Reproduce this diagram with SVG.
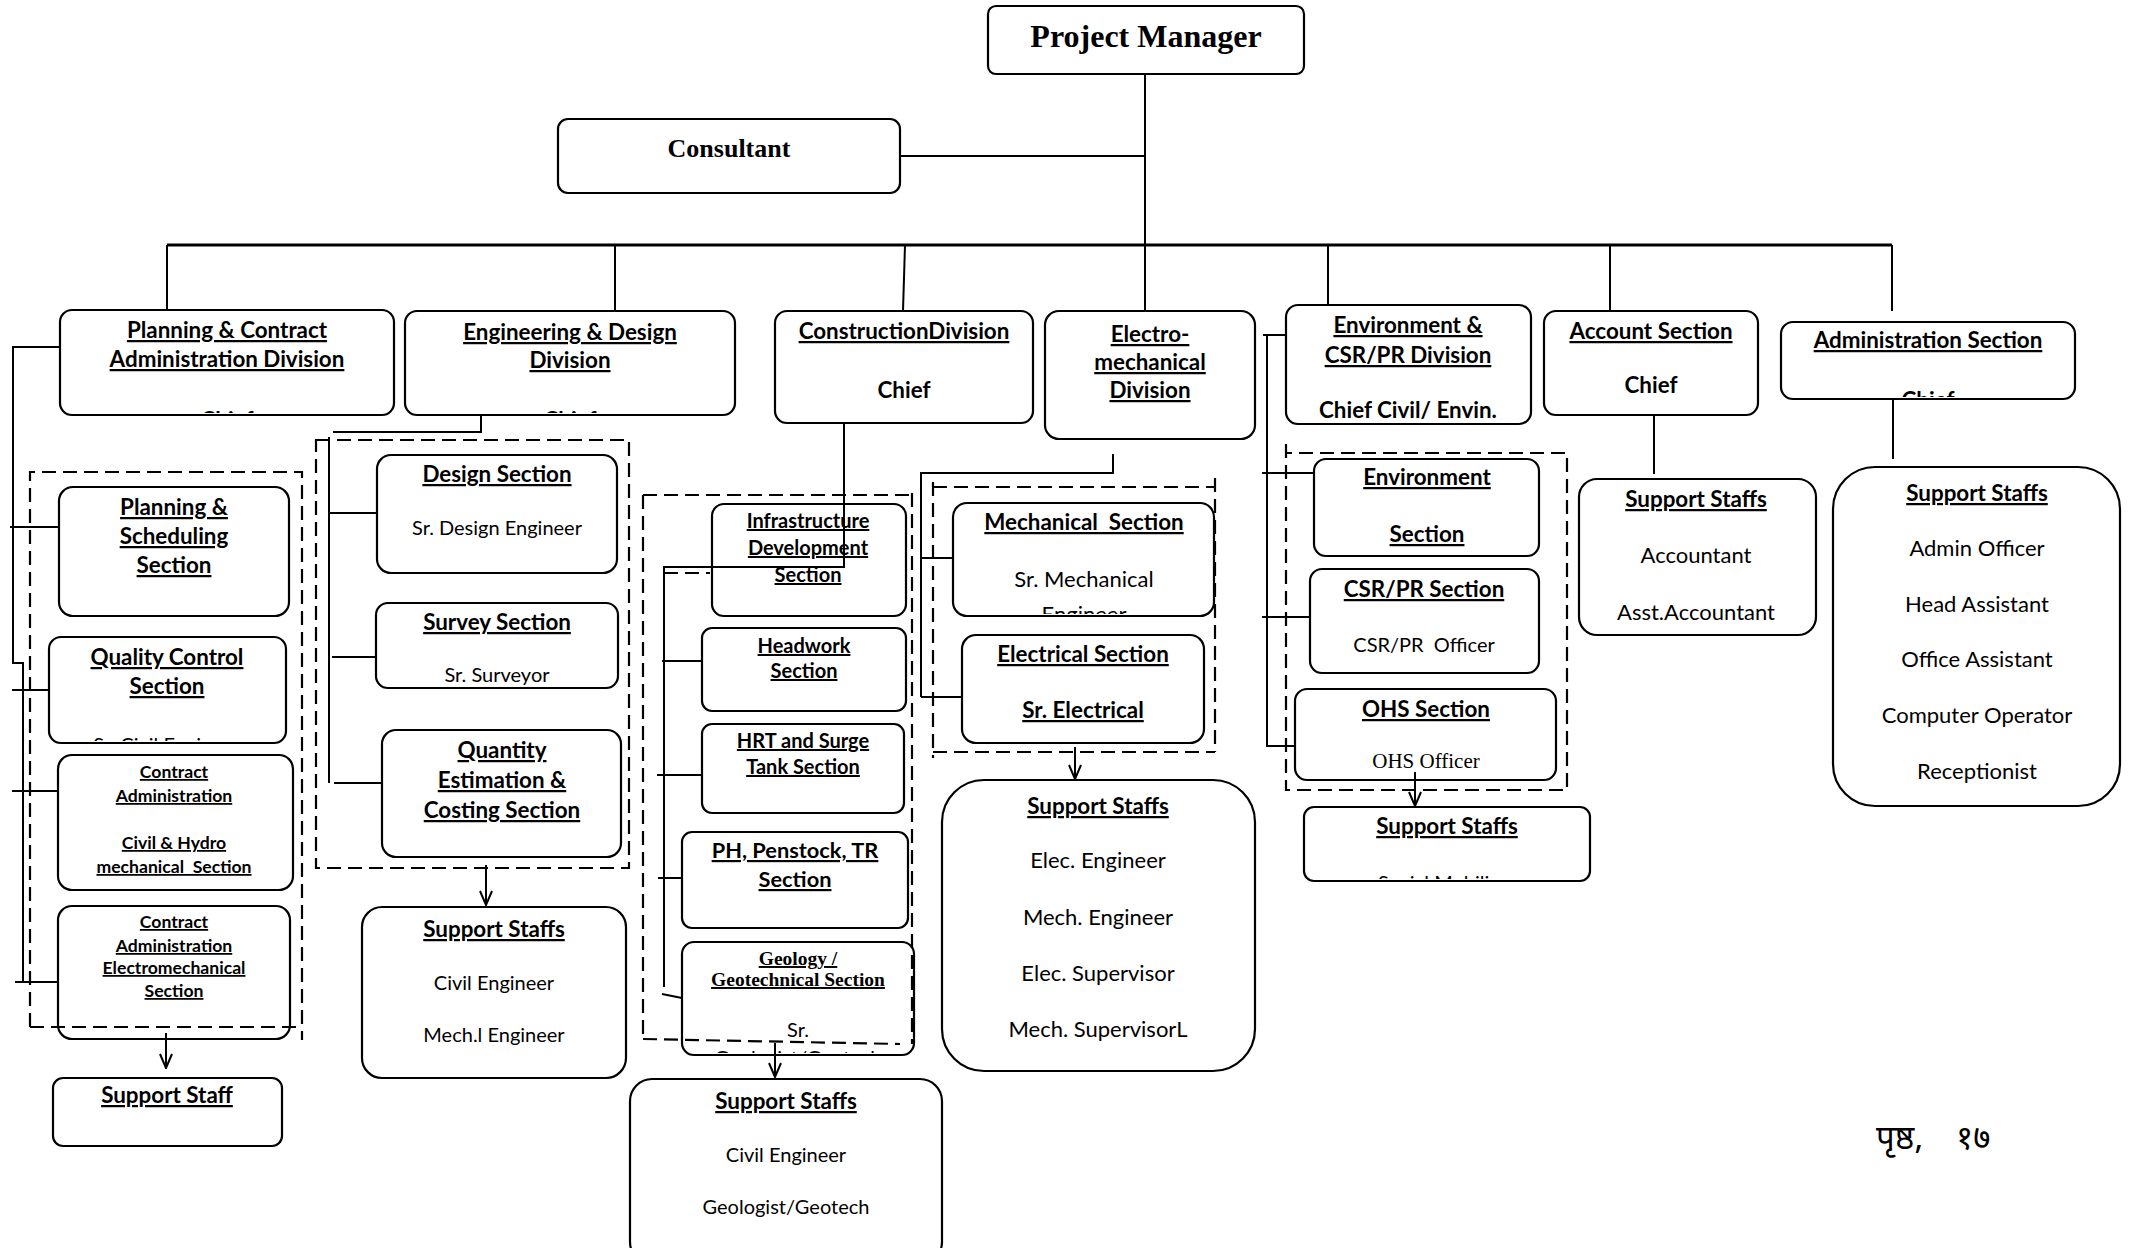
<svg xmlns="http://www.w3.org/2000/svg" width="2134" height="1248" viewBox="0 0 2134 1248">
<style>
.bg{fill:#fff}
.box{fill:none;stroke:#000;stroke-width:2.2}
.ln{fill:none;stroke:#000;stroke-width:2}
.bus{fill:none;stroke:#000;stroke-width:3}
.dash{fill:none;stroke:#000;stroke-width:2.2;stroke-dasharray:14 7}
.arr{fill:none;stroke:#000;stroke-width:2;marker-end:url(#v)}
text{font-family:Lato,"Liberation Sans",sans-serif;text-anchor:middle;fill:#000}
.b{font-weight:700}
.u{text-decoration:underline}
.s{font-family:"Liberation Serif","Times New Roman",serif}
.pre{white-space:pre}
.t{font-size:22.4px}
.sm{font-size:17.6px}
.md{font-size:20px}
.r20{font-size:20px}.r22{font-size:22px}
</style>
<defs>
<marker id="v" viewBox="0 0 16 14" refX="15" refY="7" markerWidth="16" markerHeight="14" markerUnits="userSpaceOnUse" orient="auto">
<path d="M1,1 L15,7 L1,13" fill="none" stroke="#000" stroke-width="2"/>
</marker>
<clipPath id="cD1"><rect x="60" y="310" width="334" height="103"/></clipPath>
<clipPath id="cD2"><rect x="405" y="311" width="330" height="102"/></clipPath>
<clipPath id="cD7"><rect x="1781" y="322" width="294" height="75"/></clipPath>
<clipPath id="cP2"><rect x="49" y="637" width="237" height="104"/></clipPath>
<clipPath id="cM1"><rect x="953" y="503" width="261" height="111"/></clipPath>
<clipPath id="cC5"><rect x="682" y="942" width="232" height="111"/></clipPath>
<clipPath id="cSV"><rect x="1304" y="807" width="286" height="72"/></clipPath>
</defs>
<rect class="bg" x="0" y="0" width="2134" height="1248"/>

<g id="connectors">
<path class="ln" d="M1145,74 V245"/>
<path class="ln" d="M900,156 H1145"/>
<path class="bus" d="M167,245 H1892"/>
<path class="ln" d="M167,245 V310 M615,245 V311 M905,245 L903,311 M1145,245 V311 M1328,245 V305 M1610,245 V311 M1892,245 V311"/>
<path class="ln" d="M60,347 H13 V663 H23 V982 M10,527 H59 M12,690 H49 M12,791 H58 M15,982 H58"/>
<path class="ln" d="M481,415 V432 H333 M329,437 V783 M329,513 H377 M332,657 H376 M334,783 H382"/>
<path class="ln" d="M844,423 V567 H664 V987 M662,661 H702 M657,775 H702 M658,878 H682 M662,994 L682,998"/>
<path class="ln" d="M1113,454 V474 M1113,473 H921 V697 M921,558 H953 M921,697 H962"/>
<path class="ln" d="M1286,335 H1263 M1267,335 V746 H1295 M1262,473 H1314 M1262,617 H1310"/>
<path class="ln" d="M1654,415 V474 M1893,400 V459"/>
<path class="arr" d="M166,1033 V1068"/>
<path class="arr" d="M486,865 V905"/>
<path class="arr" d="M775,1043 V1077"/>
<path class="arr" d="M1075,747 V779"/>
<path class="arr" d="M1415,772 V806"/>
<path class="dash" d="M30,1027 V472 H302 V1040 M30,1027 H302"/>
<path class="dash" d="M316,440 H629 V868 H316 Z"/>
<path class="dash" d="M643,495 H910 M643,495 V1040 M643,1039 L900,1044 M912,493 V1044 M664,573 H710"/>
<path class="dash" d="M933,487 H1215 M1215,478 V752 M933,752 H1215 M933,482 V758"/>
<path class="dash" d="M1286,444 V790 H1567 V453 H1286"/>
</g>

<g id="project-manager">
<rect class="box" x="988" y="6" width="316" height="68" rx="8"/>
<text class="s b" x="1146" y="47" style="font-size:32px">Project Manager</text>
</g>
<g id="consultant">
<rect class="box" x="558" y="119" width="342" height="74" rx="10"/>
<text class="s b" x="729" y="157" style="font-size:26px">Consultant</text>
</g>

<g id="planning-division">
<rect class="box" x="60" y="310" width="334" height="105" rx="12"/>
<text class="b u t" x="227" y="338">Planning &amp; Contract</text>
<text class="b u t" x="227" y="367">Administration Division</text>
<text class="b t" x="227" y="428" clip-path="url(#cD1)">Chief</text>
</g>
<g id="engineering-division">
<rect class="box" x="405" y="311" width="330" height="104" rx="12"/>
<text class="b u t" x="570" y="340">Engineering &amp; Design</text>
<text class="b u t" x="570" y="368">Division</text>
<text class="b t" x="570" y="428" clip-path="url(#cD2)">Chief</text>
</g>
<g id="construction-division">
<rect class="box" x="775" y="311" width="258" height="112" rx="12"/>
<text class="b u t" x="904" y="339">ConstructionDivision</text>
<text class="b t" x="904" y="398">Chief</text>
</g>
<g id="electromechanical-division">
<rect class="box" x="1045" y="311" width="210" height="128" rx="14"/>
<text class="b u t" x="1150" y="342">Electro-</text>
<text class="b u t" x="1150" y="370">mechanical</text>
<text class="b u t" x="1150" y="398">Division</text>
</g>
<g id="environment-division">
<rect class="box" x="1286" y="305" width="245" height="119" rx="12"/>
<text class="b u t" x="1408" y="333">Environment &amp;</text>
<text class="b u t" x="1408" y="363">CSR/PR Division</text>
<text class="b t" x="1408" y="418">Chief Civil/ Envin.</text>
</g>
<g id="account-section">
<rect class="box" x="1544" y="311" width="214" height="104" rx="12"/>
<text class="b u t" x="1651" y="339">Account Section</text>
<text class="b t" x="1651" y="393">Chief</text>
</g>
<g id="administration-section">
<rect class="box" x="1781" y="322" width="294" height="77" rx="12"/>
<text class="b u t" x="1928" y="348">Administration Section</text>
<text class="b t" x="1928" y="408" clip-path="url(#cD7)">Chief</text>
</g>

<g id="planning-scheduling">
<rect class="box" x="59" y="487" width="230" height="129" rx="14"/>
<text class="b u t" x="174" y="515">Planning &amp;</text>
<text class="b u t" x="174" y="544">Scheduling</text>
<text class="b u t" x="174" y="573">Section</text>
</g>
<g id="quality-control">
<rect class="box" x="49" y="637" width="237" height="106" rx="12"/>
<text class="b u t" x="167" y="665">Quality Control</text>
<text class="b u t" x="167" y="694">Section</text>
<text class="r20" x="167" y="752" clip-path="url(#cP2)">Sr. Civil Engineer</text>
</g>
<g id="contract-civil">
<rect class="box" x="58" y="755" width="235" height="135" rx="14"/>
<text class="b u sm" x="174" y="778">Contract</text>
<text class="b u sm" x="174" y="802">Administration</text>
<text class="b u sm" x="174" y="849">Civil &amp; Hydro</text>
<text class="b u sm pre" x="174" y="873">mechanical  Section</text>
</g>
<g id="contract-electromechanical">
<rect class="box" x="58" y="906" width="232" height="133" rx="14"/>
<text class="b u sm" x="174" y="928">Contract</text>
<text class="b u sm" x="174" y="952">Administration</text>
<text class="b u sm" x="174" y="974">Electromechanical</text>
<text class="b u sm" x="174" y="997">Section</text>
</g>
<g id="planning-support">
<rect class="box" x="53" y="1078" width="229" height="68" rx="10"/>
<text class="b u t" x="167" y="1103">Support Staff</text>
</g>

<g id="design-section">
<rect class="box" x="377" y="455" width="240" height="118" rx="14"/>
<text class="b u t" x="497" y="482">Design Section</text>
<text class="r20" x="497" y="535">Sr. Design Engineer</text>
</g>
<g id="survey-section">
<rect class="box" x="376" y="603" width="242" height="85" rx="12"/>
<text class="b u t" x="497" y="630">Survey Section</text>
<text class="r20" x="497" y="682">Sr. Surveyor</text>
</g>
<g id="quantity-section">
<rect class="box" x="382" y="730" width="239" height="127" rx="14"/>
<text class="b u t" x="502" y="758">Quantity</text>
<text class="b u t" x="502" y="788">Estimation &amp;</text>
<text class="b u t" x="502" y="818">Costing Section</text>
</g>
<g id="engineering-support">
<rect class="box" x="362" y="907" width="264" height="171" rx="20"/>
<text class="b u t" x="494" y="937">Support Staffs</text>
<text class="r20" x="494" y="990">Civil Engineer</text>
<text class="r20" x="494" y="1042">Mech.l Engineer</text>
</g>

<g id="infrastructure-section">
<rect class="box" x="712" y="504" width="194" height="112" rx="12"/>
<text class="b u md" x="808" y="528">Infrastructure</text>
<text class="b u md" x="808" y="555">Development</text>
<text class="b u md" x="808" y="582">Section</text>
</g>
<g id="headwork-section">
<rect class="box" x="702" y="628" width="204" height="83" rx="10"/>
<text class="b u md" x="804" y="653">Headwork</text>
<text class="b u md" x="804" y="678">Section</text>
</g>
<g id="hrt-section">
<rect class="box" x="702" y="724" width="202" height="89" rx="10"/>
<text class="b u md" x="803" y="748">HRT and Surge</text>
<text class="b u md" x="803" y="774">Tank Section</text>
</g>
<g id="ph-section">
<rect class="box" x="682" y="832" width="226" height="96" rx="10"/>
<text class="b u" x="795" y="858" style="font-size:21.8px">PH, Penstock, TR</text>
<text class="b u" x="795" y="887" style="font-size:21.8px">Section</text>
</g>
<g id="geology-section">
<rect class="box" x="682" y="942" width="232" height="113" rx="12"/>
<text class="s b u" x="798" y="965" style="font-size:19.5px">Geology /</text>
<text class="s b u" x="798" y="986" style="font-size:19.5px">Geotechnical Section</text>
<text class="r20" x="798" y="1037">Sr.</text>
<text class="r20" x="798" y="1065" clip-path="url(#cC5)">Geologist/Geotech</text>
</g>
<g id="construction-support">
<rect class="box" x="630" y="1079" width="312" height="185" rx="22"/>
<text class="b u t" x="786" y="1109">Support Staffs</text>
<text class="r20" x="786" y="1162">Civil Engineer</text>
<text class="r20" x="786" y="1214">Geologist/Geotech</text>
</g>

<g id="mechanical-section">
<rect class="box" x="953" y="503" width="261" height="113" rx="14"/>
<text class="b u t pre" x="1084" y="530">Mechanical  Section</text>
<text class="r22" x="1084" y="587">Sr. Mechanical</text>
<text class="r22" x="1084" y="622" clip-path="url(#cM1)">Engineer</text>
</g>
<g id="electrical-section">
<rect class="box" x="962" y="635" width="242" height="108" rx="14"/>
<text class="b u t" x="1083" y="662">Electrical Section</text>
<text class="b u t" x="1083" y="718">Sr. Electrical</text>
</g>
<g id="electromechanical-support">
<rect class="box" x="942" y="780" width="313" height="291" rx="42"/>
<text class="b u t" x="1098" y="814">Support Staffs</text>
<text class="r22" x="1098" y="868">Elec. Engineer</text>
<text class="r22" x="1098" y="925">Mech. Engineer</text>
<text class="r22" x="1098" y="981">Elec. Supervisor</text>
<text class="r22" x="1098" y="1037">Mech. SupervisorL</text>
</g>

<g id="environment-section">
<rect class="box" x="1314" y="459" width="225" height="97" rx="12"/>
<text class="b u t" x="1427" y="485">Environment</text>
<text class="b u t" x="1427" y="542">Section</text>
</g>
<g id="csr-section">
<rect class="box" x="1310" y="569" width="229" height="104" rx="12"/>
<text class="b u t" x="1424" y="597">CSR/PR Section</text>
<text class="r20 pre" x="1424" y="652">CSR/PR  Officer</text>
</g>
<g id="ohs-section">
<rect class="box" x="1295" y="689" width="261" height="91" rx="12"/>
<text class="b u t" x="1426" y="717">OHS Section</text>
<text class="s" x="1426" y="768" style="font-size:21px">OHS Officer</text>
</g>
<g id="environment-support">
<rect class="box" x="1304" y="807" width="286" height="74" rx="10"/>
<text class="b u t" x="1447" y="834">Support Staffs</text>
<text class="r20" x="1447" y="890" clip-path="url(#cSV)">Social Mobilizer</text>
</g>

<g id="account-support">
<rect class="box" x="1579" y="479" width="237" height="156" rx="18"/>
<text class="b u t" x="1696" y="507">Support Staffs</text>
<text class="r22" x="1696" y="563">Accountant</text>
<text class="r22" x="1696" y="620">Asst.Accountant</text>
</g>
<g id="administration-support">
<rect class="box" x="1833" y="467" width="287" height="339" rx="42"/>
<text class="b u t" x="1977" y="501">Support Staffs</text>
<text class="r22" x="1977" y="556">Admin Officer</text>
<text class="r22" x="1977" y="612">Head Assistant</text>
<text class="r22" x="1977" y="667">Office Assistant</text>
<text class="r22" x="1977" y="723">Computer Operator</text>
<text class="r22" x="1977" y="779">Receptionist</text>
</g>

<text x="1876" y="1149" style="text-anchor:start;font-size:33px;font-family:'Noto Sans Devanagari','Lohit Devanagari','FreeSans','Noto Sans',sans-serif">पृष्ठ,<tspan x="1956">१७</tspan></text>
</svg>
